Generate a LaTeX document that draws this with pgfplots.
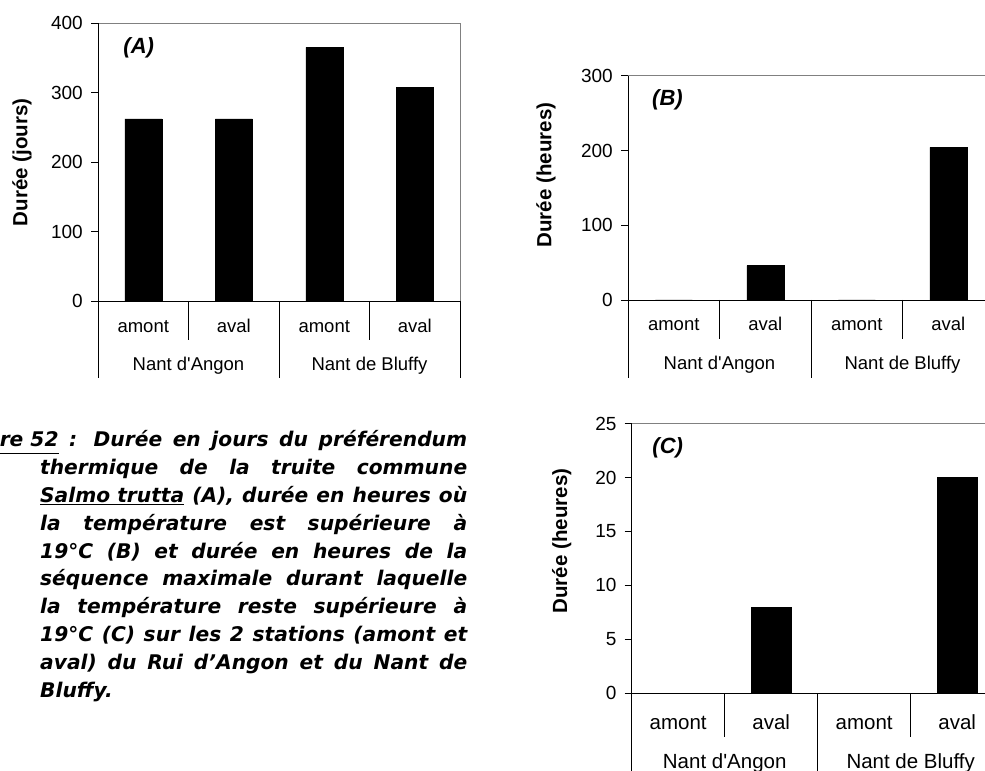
\documentclass[border=0pt]{standalone}
\usepackage{fontspec}
\setmainfont{Liberation Sans}[Ligatures=TeXOff]
\newfontfamily\capfont{DejaVu Sans}
\usepackage{pgfplots}
\pgfplotsset{compat=1.18}
\definecolor{framegray}{RGB}{128,128,128}

\pgfplotsset{cat/.style={
  scale only axis, anchor=south west,
  xmin=0, xmax=4, ymin=0, clip=false,
  axis line style={draw=none},
  xtick=\empty, ytick pos=left,
  tick align=outside, major tick length=7bp,
  ytick style={black, line width=0.8bp},
  /pgf/number format/assume math mode=true,
  yticklabel style={font=\fontsize{19bp}{19bp}\selectfont, inner sep=0pt, anchor=east, xshift=-8bp},
}}

\newcommand{\frameaxis}{%
  \draw[framegray, line width=0.8bp] (rel axis cs:0,1) -- (rel axis cs:1,1) -- (rel axis cs:1,0);
  \draw[black, line width=0.8bp] (rel axis cs:0,1) -- (rel axis cs:0,0) -- (rel axis cs:1,0);}
\newcommand{\seps}[2]{%
  \draw[line width=0.8bp] (axis cs:0,0) -- ++(0,-#2bp);
  \draw[line width=0.8bp] (axis cs:1,0) -- ++(0,-#1bp);
  \draw[line width=0.8bp] (axis cs:2,0) -- ++(0,-#2bp);
  \draw[line width=0.8bp] (axis cs:3,0) -- ++(0,-#1bp);
  \draw[line width=0.8bp] (axis cs:4,0) -- ++(0,-#2bp);}
\newcommand{\labs}[3]{%
  \node[anchor=base, yshift=-#1bp, font=\fontsize{#3bp}{#3bp}\selectfont] at (axis cs:0.5,0) {amont};
  \node[anchor=base, yshift=-#1bp, font=\fontsize{#3bp}{#3bp}\selectfont] at (axis cs:1.5,0) {aval};
  \node[anchor=base, yshift=-#1bp, font=\fontsize{#3bp}{#3bp}\selectfont] at (axis cs:2.5,0) {amont};
  \node[anchor=base, yshift=-#1bp, font=\fontsize{#3bp}{#3bp}\selectfont] at (axis cs:3.5,0) {aval};
  \node[anchor=base, yshift=-#2bp, font=\fontsize{#3bp}{#3bp}\selectfont] at (axis cs:1,0) {Nant d'Angon};
  \node[anchor=base, yshift=-#2bp, font=\fontsize{#3bp}{#3bp}\selectfont] at (axis cs:3,0) {Nant de Bluffy};}

\begin{document}
\begin{tikzpicture}
\begin{scope}
\clip (0,0) rectangle (985bp,771bp);

% ---------- (A) ----------
\begin{axis}[cat, at={(98bp,470bp)}, width=362bp, height=278bp,
  ymax=400, ytick={0,100,200,300,400}]
\addplot[ybar, bar width=37bp, fill=black, draw=black] coordinates {(0.5,262) (1.5,262) (2.5,365) (3.5,307)};
\frameaxis
\seps{39}{77}
\labs{31.7}{70}{18.5}
\end{axis}

% ---------- (B) ----------
\begin{axis}[cat, at={(628bp,471bp)}, width=366bp, height=224.3bp,
  ymax=300, ytick={0,100,200,300}]
\addplot[ybar, bar width=37bp, fill=black, draw=black] coordinates {(0.5,0) (1.5,46) (2.5,0) (3.5,204)};
\frameaxis
\seps{39}{77.7}
\labs{31}{70}{18.5}
\end{axis}

% ---------- (C) ----------
\begin{axis}[cat, at={(631.7bp,77.7bp)}, width=372bp, height=269.6bp,
  ymax=25, ytick={0,5,10,15,20,25}]
\addplot[ybar, bar width=40bp, fill=black, draw=black] coordinates {(0.5,0) (1.5,8) (2.5,0) (3.5,20)};
\frameaxis
\seps{43.4}{90}
\labs{36}{75}{20.5}
\end{axis}

% axis titles
\node[rotate=90, font=\bfseries\fontsize{20.5bp}{20.5bp}\selectfont] at (22bp,608.5bp) {Durée (jours)};
\node[rotate=90, font=\bfseries\fontsize{20.5bp}{20.5bp}\selectfont] at (546bp,596bp) {Durée (heures)};
\node[rotate=90, font=\bfseries\fontsize{20.5bp}{20.5bp}\selectfont] at (561.7bp,230bp) {Durée (heures)};

% panel tags
\node[font=\bfseries\itshape\fontsize{22bp}{22bp}\selectfont] at (138.7bp,723bp) {(A)};
\node[font=\bfseries\itshape\fontsize{22bp}{22bp}\selectfont] at (667.5bp,671bp) {(B)};
\node[font=\bfseries\itshape\fontsize{22bp}{22bp}\selectfont] at (667.7bp,323.5bp) {(C)};

% caption
\node[anchor=base west, inner sep=0pt,
  font=\capfont\bfseries\itshape\fontsize{20.2bp}{27.8bp}\selectfont] at (-50bp,324bp)
  {\hbox to 517bp{\underline{Figure 52} : Durée en jours du préférendum}};
\node[anchor=base west, inner sep=0pt, text width=427bp, align=justify,
  font=\capfont\bfseries\itshape\fontsize{20.2bp}{27.8bp}\selectfont] at (40bp,296.2bp)
  {thermique de la truite commune\linebreak
   \underline{Salmo trutta} (A), durée en heures où\linebreak
   la température est supérieure à\linebreak
   19°C (B) et durée en heures de la\linebreak
   séquence maximale durant laquelle\linebreak
   la température reste supérieure à\linebreak
   19°C (C) sur les 2 stations (amont et\linebreak
   aval) du Rui d’Angon et du Nant de\linebreak
   Bluffy.};
\end{scope}
\pgfresetboundingbox
\useasboundingbox (0,0) rectangle (985bp,771bp);
\end{tikzpicture}
\end{document}
